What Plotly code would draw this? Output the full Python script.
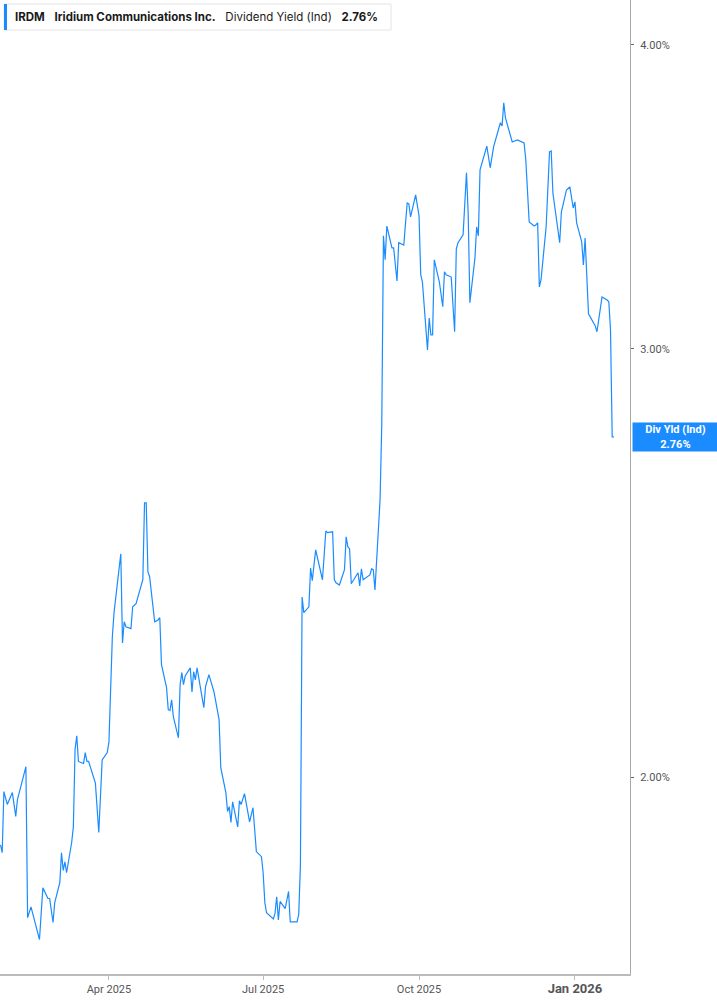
import math
import plotly.graph_objects as go

dates = [
    "2025-01-27", "2025-01-28", "2025-01-29", "2025-01-31", "2025-02-03", "2025-02-05", "2025-02-06",
    "2025-02-11", "2025-02-12", "2025-02-14", "2025-02-19", "2025-02-21", "2025-02-24", "2025-02-25",
    "2025-02-27", "2025-02-28", "2025-03-03", "2025-03-04", "2025-03-05", "2025-03-06", "2025-03-07",
    "2025-03-10", "2025-03-11", "2025-03-12", "2025-03-13", "2025-03-14", "2025-03-17", "2025-03-18",
    "2025-03-19", "2025-03-20", "2025-03-24", "2025-03-26", "2025-03-28", "2025-03-31", "2025-04-01",
    "2025-04-03", "2025-04-04", "2025-04-08", "2025-04-09", "2025-04-10", "2025-04-11", "2025-04-14",
    "2025-04-15", "2025-04-17", "2025-04-21", "2025-04-22", "2025-04-23", "2025-04-24", "2025-04-25",
    "2025-04-28", "2025-04-30", "2025-05-01", "2025-05-02", "2025-05-05", "2025-05-06", "2025-05-07",
    "2025-05-08", "2025-05-09", "2025-05-12", "2025-05-13", "2025-05-14", "2025-05-15", "2025-05-16",
    "2025-05-19", "2025-05-20", "2025-05-21", "2025-05-22", "2025-05-23", "2025-05-27", "2025-05-28",
    "2025-05-30", "2025-06-02", "2025-06-05", "2025-06-06", "2025-06-09", "2025-06-10", "2025-06-11",
    "2025-06-12", "2025-06-13", "2025-06-16", "2025-06-17", "2025-06-18", "2025-06-20", "2025-06-23",
    "2025-06-25", "2025-06-27", "2025-06-30", "2025-07-01", "2025-07-02", "2025-07-03", "2025-07-07",
    "2025-07-08", "2025-07-09", "2025-07-10", "2025-07-11", "2025-07-14", "2025-07-16", "2025-07-17",
    "2025-07-21", "2025-07-22", "2025-07-23", "2025-07-24", "2025-07-25", "2025-07-28", "2025-07-29",
    "2025-07-30", "2025-08-01", "2025-08-05", "2025-08-07", "2025-08-08", "2025-08-11", "2025-08-12",
    "2025-08-13", "2025-08-15", "2025-08-18", "2025-08-19", "2025-08-20", "2025-08-21", "2025-08-22",
    "2025-08-25", "2025-08-26", "2025-08-27", "2025-08-28", "2025-08-29", "2025-09-02", "2025-09-03",
    "2025-09-04", "2025-09-05", "2025-09-08", "2025-09-09", "2025-09-10", "2025-09-11", "2025-09-12",
    "2025-09-15", "2025-09-16", "2025-09-18", "2025-09-19", "2025-09-22", "2025-09-24", "2025-09-25",
    "2025-09-26", "2025-09-29", "2025-10-01", "2025-10-02", "2025-10-03", "2025-10-06", "2025-10-07",
    "2025-10-08", "2025-10-09", "2025-10-10", "2025-10-13", "2025-10-15", "2025-10-16", "2025-10-17",
    "2025-10-20", "2025-10-22", "2025-10-23", "2025-10-24", "2025-10-27", "2025-10-29", "2025-10-30",
    "2025-10-31", "2025-11-03", "2025-11-04", "2025-11-05", "2025-11-06", "2025-11-10", "2025-11-12",
    "2025-11-14", "2025-11-18", "2025-11-19", "2025-11-20", "2025-11-21", "2025-11-25", "2025-11-28",
    "2025-12-02", "2025-12-03", "2025-12-05", "2025-12-08", "2025-12-09", "2025-12-10", "2025-12-11",
    "2025-12-12", "2025-12-15", "2025-12-17", "2025-12-18", "2025-12-19", "2025-12-23", "2025-12-24",
    "2025-12-27", "2025-12-29", "2025-12-31", "2026-01-01", "2026-01-02", "2026-01-05", "2026-01-06",
    "2026-01-07", "2026-01-09", "2026-01-12", "2026-01-13", "2026-01-14", "2026-01-17", "2026-01-20",
    "2026-01-21", "2026-01-22", "2026-01-23", "2026-01-24",
]

div_yield = [
    1.876, 1.862, 1.973, 1.949, 1.971, 1.927, 1.958,
    2.020, 1.751, 1.769, 1.715, 1.801, 1.783, 1.783,
    1.743, 1.776, 1.810, 1.862, 1.831, 1.846, 1.827,
    1.880, 1.908, 2.053, 2.080, 2.030, 2.026, 2.047,
    2.030, 2.030, 1.989, 1.898, 2.033, 2.047, 2.068,
    2.284, 2.337, 2.471, 2.271, 2.317, 2.306, 2.302,
    2.350, 2.357, 2.411, 2.593, 2.593, 2.429, 2.418,
    2.317, 2.321, 2.326, 2.225, 2.177, 2.132, 2.130,
    2.152, 2.118, 2.076, 2.183, 2.208, 2.183, 2.201,
    2.218, 2.168, 2.210, 2.193, 2.218, 2.136, 2.179,
    2.204, 2.168, 2.112, 2.018, 1.971, 1.936, 1.945,
    1.916, 1.954, 1.908, 1.956, 1.949, 1.969, 1.917,
    1.943, 1.864, 1.855, 1.827, 1.776, 1.759, 1.749,
    1.758, 1.786, 1.747, 1.778, 1.766, 1.795, 1.744,
    1.744, 1.756, 1.841, 2.372, 2.337, 2.350, 2.438,
    2.409, 2.480, 2.411, 2.525, 2.521, 2.523, 2.411,
    2.404, 2.399, 2.434, 2.511, 2.487, 2.483, 2.402,
    2.420, 2.427, 2.397, 2.436, 2.411, 2.422, 2.436,
    2.434, 2.388, 2.600, 2.792, 3.339, 3.264, 3.370,
    3.301, 3.301, 3.199, 3.317, 3.310, 3.444, 3.441,
    3.399, 3.471, 3.402, 3.218, 3.196, 2.997, 3.089,
    3.040, 3.040, 3.264, 3.196, 3.122, 3.227, 3.218,
    3.211, 3.049, 3.298, 3.317, 3.342, 3.544, 3.412,
    3.134, 3.270, 3.367, 3.339, 3.554, 3.635, 3.561,
    3.632, 3.716, 3.705, 3.787, 3.733, 3.649, 3.656,
    3.646, 3.588, 3.383, 3.370, 3.374, 3.380, 3.181,
    3.203, 3.367, 3.615, 3.618, 3.477, 3.317, 3.415,
    3.487, 3.497, 3.428, 3.448, 3.380, 3.320, 3.248,
    3.332, 3.101, 3.075, 3.066, 3.049, 3.151, 3.142,
    3.137, 3.054, 2.760, 2.760,
]

x_tick_vals = ["2025-04-01", "2025-07-01", "2025-10-01", "2026-01-01"]
x_tick_text = ["Apr 2025", "Jul 2025", "Oct 2025",
               "<span style='font-size:13px'><b>Jan 2026</b></span>"]
y_tick_vals = [2, 3, 4]
y_tick_text = ["2.00%", "3.00%", "4.00%"]

ticker = "IRDM"
company = "Iridium Communications Inc."
metric = "Dividend Yield (Ind)"
last_value = 2.76

BLUE = "#1a8cff"
PLOT_W = 630.0
PLOT_H = 974.0

fig = go.Figure()
fig.add_trace(go.Scatter(
    x=dates, y=div_yield, mode="lines",
    line=dict(color=BLUE, width=1.2),
    hoverinfo="skip", showlegend=False,
))

nb = "\u00a0"
title_text = (f"<b>{ticker}</b>{nb*3}<b>{company}</b>{nb*3}{metric}{nb*3}"
              f"<b>{last_value:.2f}%</b>")

fig.update_layout(
    width=717, height=1005,
    margin=dict(l=0, r=87, t=0, b=31),
    paper_bgcolor="white", plot_bgcolor="white",
    showlegend=False,
    xaxis=dict(
        type="date",
        range=["2025-01-26 17:00", "2026-02-02 12:00"],
        tickvals=x_tick_vals, ticktext=x_tick_text,
        showgrid=False, zeroline=False,
        showline=True, linecolor="#bbbbbb", linewidth=2,
        ticks="outside", ticklen=4, tickcolor="#bbbbbb", tickwidth=1,
        tickfont=dict(family="Roboto, sans-serif", size=11, color="#555555"),
    ),
    yaxis=dict(
        type="log", side="right",
        range=[math.log10(1.660), math.log10(4.174)],
        tickvals=y_tick_vals, ticktext=y_tick_text,
        showgrid=False, zeroline=False,
        showline=True, linecolor="#a8a8a8", linewidth=1,
        ticks="outside", ticklen=3, tickcolor="#666666", tickwidth=1,
        ticklabelstandoff=4,
        tickfont=dict(family="Roboto, sans-serif", size=11, color="#555555"),
    ),
    shapes=[
        dict(type="rect", xref="paper", yref="paper",
             x0=4 / PLOT_W, x1=391 / PLOT_W, y0=1 - 30 / PLOT_H, y1=1 - 4 / PLOT_H,
             fillcolor="white", line=dict(color="#e4e4e4", width=1), layer="above"),
        dict(type="rect", xref="paper", yref="paper",
             x0=4 / PLOT_W, x1=7 / PLOT_W, y0=1 - 30 / PLOT_H, y1=1 - 4 / PLOT_H,
             fillcolor=BLUE, line=dict(width=0), layer="above"),
    ],
    annotations=[
        dict(xref="paper", yref="paper", x=13 / PLOT_W, y=1 - 17 / PLOT_H,
             xanchor="left", yanchor="middle", showarrow=False,
             text=title_text,
             font=dict(family="Inter, sans-serif", size=11.5, color="#1a1a1a")),
        dict(xref="paper", yref="y", x=632 / PLOT_W, y=math.log10(last_value),
             xanchor="left", yanchor="middle", showarrow=False,
             text=f"<b>Div Yld (Ind)</b><br><b>{last_value:.2f}%</b>",
             bgcolor=BLUE, width=81, height=24, borderpad=2, align="center",
             font=dict(family="Roboto, sans-serif", size=11, color="white")),
    ],
)

fig.write_html(
    "out.html",
    config={"displayModeBar": False},
    post_script="document.body.style.margin='0';document.body.style.padding='0';",
)
